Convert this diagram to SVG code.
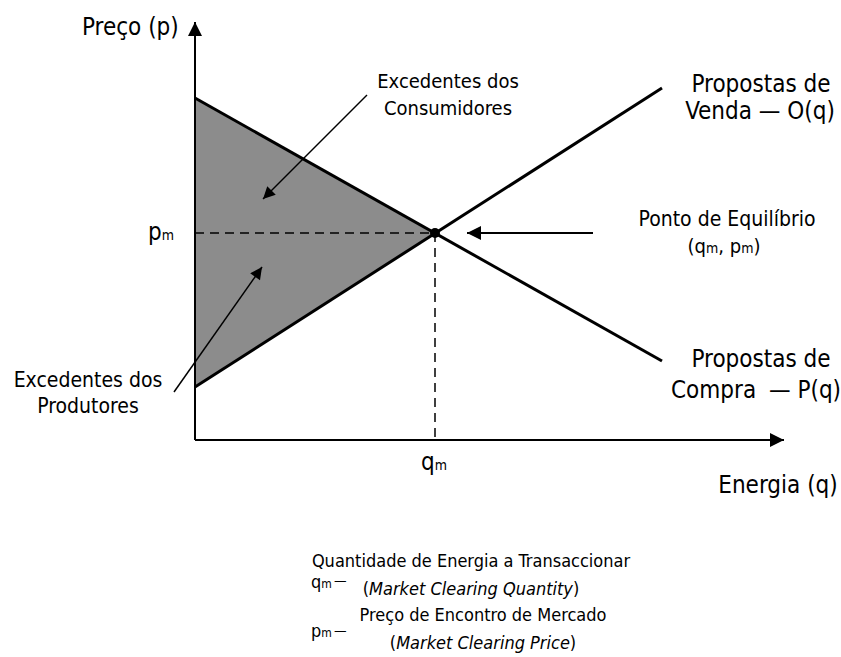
<svg xmlns="http://www.w3.org/2000/svg" width="841" height="657" viewBox="0 0 841 657">
<style>
text{font-family:"DejaVu Sans Condensed","DejaVu Sans",sans-serif;fill:#000}
.big{font-size:24px}
.mid{font-size:20px}
.lab{font-size:21px}
.leg{font-size:18px}
.sub{font-size:14px}
.lsub{font-size:12px}
.dash{font-size:14px}
.ln{stroke:#000;fill:none}
</style>
<defs>
<marker id="ah" viewBox="0 0 10 10" refX="10" refY="5" markerWidth="16" markerHeight="14" markerUnits="userSpaceOnUse" orient="auto"><path d="M0,0 L10,5 L0,10 Z" fill="#000"/></marker>
<marker id="ahs" viewBox="0 0 10 10" refX="10" refY="5" markerWidth="14" markerHeight="12" markerUnits="userSpaceOnUse" orient="auto"><path d="M0,0 L10,5 L0,10 Z" fill="#000"/></marker>
</defs>
<g id="surplus">
<polygon points="195,98 435,233 195,387" fill="#8c8c8c"/>
</g>
<g id="axes">
<line class="ln" x1="195" y1="440" x2="195" y2="22" stroke-width="2" marker-end="url(#ah)"/>
<line class="ln" x1="195" y1="440" x2="784" y2="440" stroke-width="2" marker-end="url(#ah)"/>
</g>
<g id="curves">
<line class="ln" x1="195" y1="98" x2="662" y2="361" stroke-width="3"/>
<line class="ln" x1="195" y1="387" x2="662" y2="88" stroke-width="3"/>
</g>
<g id="connectors">
<line class="ln" x1="195" y1="233" x2="435" y2="233" stroke-width="1.5" stroke-dasharray="9,6"/>
<line class="ln" x1="435" y1="233" x2="435" y2="440" stroke-width="1.5" stroke-dasharray="9,6"/>
<line class="ln" x1="593" y1="233" x2="467" y2="233" stroke-width="2" marker-end="url(#ah)"/>
<line class="ln" x1="367" y1="95" x2="263" y2="199" stroke-width="1.5" marker-end="url(#ahs)"/>
<line class="ln" x1="174" y1="392" x2="262" y2="267" stroke-width="1.5" marker-end="url(#ahs)"/>
</g>
<g id="equilibrium">
<circle cx="435" cy="233" r="5" fill="#000"/>
</g>
<g id="labels">
<text class="big" x="82" y="35">Preço (p)</text>
<text class="mid" x="448" y="88" text-anchor="middle">Excedentes dos</text>
<text class="mid" x="448" y="115" text-anchor="middle">Consumidores</text>
<text class="big" x="761" y="92" text-anchor="middle">Propostas de</text>
<text class="big" x="760" y="119" text-anchor="middle">Venda — O(q)</text>
<text class="lab" x="727" y="226" text-anchor="middle">Ponto de Equilíbrio</text>
<text class="mid" x="724" y="253" text-anchor="middle">(q<tspan class="sub">m</tspan>, p<tspan class="sub">m</tspan>)</text>
<text class="big" x="148" y="240">p<tspan class="sub">m</tspan></text>
<text class="big" x="421" y="470">q<tspan class="sub">m</tspan></text>
<text class="big" x="778" y="493" text-anchor="middle">Energia (q)</text>
<text class="big" x="761" y="367" text-anchor="middle">Propostas de</text>
<text class="big" x="756" y="398" text-anchor="middle">Compra<tspan dx="6">  — P(q)</tspan></text>
<text class="lab" x="88" y="387" text-anchor="middle">Excedentes dos</text>
<text class="lab" x="88" y="413" text-anchor="middle">Produtores</text>
</g>
<g id="legend">
<text class="leg" x="311" y="588">q<tspan class="lsub">m</tspan></text>
<text class="dash" x="334" y="585">—</text>
<text class="leg" x="471" y="567" text-anchor="middle">Quantidade de Energia a Transaccionar</text>
<text class="leg" x="471" y="595" text-anchor="middle">(<tspan font-style="italic">Market Clearing Quantity</tspan>)</text>
<text class="leg" x="311" y="637">p<tspan class="lsub">m</tspan></text>
<text class="dash" x="334" y="635">—</text>
<text class="leg" x="483" y="621" text-anchor="middle">Preço de Encontro de Mercado</text>
<text class="leg" x="483" y="649" text-anchor="middle">(<tspan font-style="italic">Market Clearing Price</tspan>)</text>
</g>
</svg>
